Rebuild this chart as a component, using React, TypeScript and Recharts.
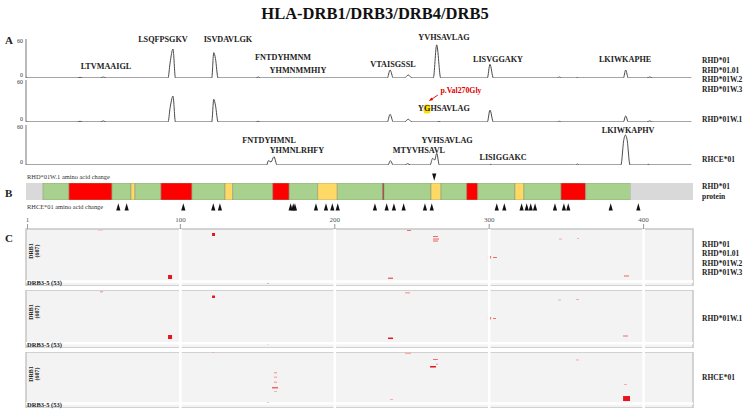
import {
  LineChart,
  Line,
  XAxis,
  YAxis,
  ReferenceDot,
  BarChart,
  Bar,
  ScatterChart,
  Scatter,
  ComposedChart,
  ReferenceArea,
  ReferenceLine,
} from 'recharts'

const SERIF = '"Liberation Serif", "DejaVu Serif", serif'
const SEQ_DOMAIN: [number, number] = [0, 432]
const RIGHT = 57 // plot area ends at x=693

// Panel A: predicted binding profile along the protein, [position, score]
const scoreRHD01: [number, number][] = [
  [0, 2], [1.2, 0], [33, 0], [35, 1], [37, 0], [48, 0], [50, 1.5], [52, 0],
  [92, 0], [93.3, 23], [95.2, 44.6], [96.8, 0],
  [120.3, 0], [121.6, 39], [122.7, 30], [124.4, 0],
  [149, 0], [150.4, 1.5], [152, 0],
  [234, 0], [235.8, 12.3], [237.9, 0],
  [245, 0], [247.6, 4.6], [250, 0],
  [263.8, 0], [266, 51], [268.6, 0],
  [298.8, 0], [300.5, 21], [302.7, 0],
  [344, 0], [345.5, 1.5], [347, 0], [356, 0], [357, 0.8], [358, 0],
  [386.9, 0], [388.4, 12.3], [390.1, 0],
  [402, 0], [404, 1.5], [406, 0], [431, 0],
]
const scoreRHD01W1: [number, number][] = [
  [0, 2], [1.2, 0], [33, 0], [35, 1], [37, 0], [48, 0], [50, 1.5], [52, 0],
  [92, 0], [93.3, 19.6], [95.2, 37], [96.8, 0],
  [120.3, 0], [121.6, 32.4], [122.7, 24], [124.4, 0],
  [149, 0], [150.4, 1], [152, 0],
  [234, 0], [235.8, 11], [237.9, 0],
  [245, 0], [247.6, 3.9], [250, 0],
  [266, 0], [267.5, 0.6], [269, 0],
  [298.8, 0], [300.5, 17], [302.7, 0],
  [344, 0], [345.5, 1], [347, 0],
  [386.9, 0], [388.4, 8.6], [390.1, 0],
  [402, 0], [404, 1.5], [406, 0], [431, 0],
]
const scoreRHCE01: [number, number][] = [
  [0, 0], [155.9, 0], [157, 6.5], [158.7, 4.5], [160.6, 12.5], [162.6, 0],
  [234.5, 0], [236, 6.5], [237.8, 0],
  [245.5, 0], [247.2, 2], [249, 0],
  [261.7, 0], [263.4, 10], [264.7, 7.5], [266, 17.5], [267.7, 0],
  [300, 0], [301, 1], [302, 0],
  [356, 0], [357, 1.5], [358.5, 0],
  [385.3, 0], [387.2, 38], [388.2, 45], [389.3, 38], [391.2, 0],
  [402, 0], [403, 1], [404.5, 0], [431, 0],
]

type Pep = { name: string; pos: number; score: number; variant?: 'mut' | 'note' }

const pepRHD01: Pep[] = [
  { name: 'LTVMAAIGL', pos: 51.8, score: 17 },
  { name: 'LSQFPSGKV', pos: 88.7, score: 60 },
  { name: 'ISVDAVLGK', pos: 130.8, score: 60 },
  { name: 'FNTDYHMNM', pos: 166.5, score: 32 },
  { name: 'YHMNMMHIY', pos: 176.2, score: 11 },
  { name: 'VTAISGSSL', pos: 237.7, score: 21.5 },
  { name: 'YVHSAVLAG', pos: 270.7, score: 63 },
  { name: 'LISVGGAKY', pos: 305.7, score: 29 },
  { name: 'LKIWKAPHE', pos: 388, score: 27.7 },
]
const pepRHD01W1: Pep[] = [
  { name: 'p.Val270Gly', pos: 281.7, score: 44.3, variant: 'note' },
  { name: 'YGHSAVLAG', pos: 270.7, score: 18.6, variant: 'mut' },
]
const pepRHCE01: Pep[] = [
  { name: 'FNTDYHMNL', pos: 157.4, score: 37.5 },
  { name: 'YHMNLRHFY', pos: 175.5, score: 21.5 },
  { name: 'MTYVHSAVL', pos: 254.5, score: 21.5 },
  { name: 'YVHSAVLAG', pos: 272.7, score: 37.5 },
  { name: 'LISIGGAKC', pos: 309, score: 11 },
  { name: 'LKIWKAPHV', pos: 390, score: 52.5 },
]

// Panel B: protein topology segments (boundaries) and types
const segBounds = [0, 11, 27.8, 55.7, 68, 70.6, 87.4, 107.5, 128.9, 133.9, 159.8, 170.5, 188.9, 201.6,
  230.9, 231.9, 262.3, 268.8, 285.4, 292.6, 316.7, 322.5, 346.5, 362.5, 391.6, 432]
const segTypes = ['tail', 'mem', 'ext', 'mem', 'loop', 'mem', 'ext', 'mem', 'loop', 'mem', 'ext', 'mem', 'loop',
  'mem', 'site', 'mem', 'loop', 'mem', 'ext', 'mem', 'loop', 'mem', 'ext', 'mem', 'tail']
const segColors: Record<string, string> = {
  tail: '#d9d9d9', mem: '#a9d18e', ext: '#ff0000', loop: '#ffd966', site: '#b22222',
}
const changesRHD01W1 = [264.4]
const changesRHCE01 = [59.8, 65.2, 101.9, 121.3, 125.6, 171.4, 173.1, 174.2, 187.8, 194.3, 198.4, 201.9, 226,
  233.6, 238.3, 244.6, 258.4, 262.8, 304.9, 309.8, 321, 324.3, 326.9, 329.7, 342.6, 348.4, 351.2, 378.7, 396.6]
const rulerTicks = [1, 100, 200, 300, 400]

// Panel C: binders per allele (607 DRB1 + 53 DRB3-5 rows); [from, to, rowFrom, rowTo, level]
type Mark = [number, number, number, number, number]
const bindRHD01: Mark[] = [
  [46.6, 49.9, 8, 18, 0], [120.5, 122.4, 46, 81, 2], [246.8, 249.4, 12, 23, 1],
  [263.6, 266.8, 81, 93, 1], [263.6, 267.5, 110, 122, 1], [263.6, 266.8, 133, 145, 1],
  [299.2, 301.2, 313, 342, 2], [302.5, 305, 324, 336, 1], [345.2, 347.2, 110, 122, 0],
  [356.9, 358.2, 104, 116, 0], [92, 94.6, 533, 579, 2], [234.5, 237.7, 562, 579, 1],
  [156, 157.4, 625, 637, 0], [387.3, 390.5, 538, 550, 1],
]
const bindRHD01W1: Mark[] = [
  [47.9, 49.9, 11, 28, 0], [120.5, 122.4, 63, 91, 2], [245.5, 248.7, 23, 40, 0],
  [299.2, 301.2, 307, 336, 2], [302.5, 304.4, 319, 330, 1], [344.6, 346.5, 108, 119, 0],
  [356.2, 358.2, 102, 114, 0], [92, 94.6, 512, 558, 2], [234.5, 237.7, 541, 558, 2],
  [156, 157.4, 612, 624, 0], [386.7, 389.9, 518, 529, 1],
]
const bindRHCE01: Mark[] = [
  [120.5, 121.8, 0, 12, 0], [245.5, 249.4, 6, 24, 0], [263.6, 266.8, 83, 94, 1],
  [265.5, 266.8, 136, 153, 0], [261.7, 265.5, 165, 183, 2], [299.2, 300.5, 0, 12, 0],
  [160.6, 162.6, 236, 253, 0], [160.6, 162.6, 289, 306, 0], [160.6, 162.6, 348, 365, 0],
  [159.3, 163.2, 412, 430, 1], [160.6, 162.6, 460, 471, 0], [156, 157.4, 590, 607, 2],
  [235.8, 237.7, 554, 566, 0], [356.2, 358.2, 88, 100, 0], [387.3, 389.2, 377, 389, 0],
  [386.7, 391.2, 519, 578, 2],
]
const markColors = ['#f4adad', '#ee6666', '#e8141c']

const groupRHD = ['RHD*01', 'RHD*01.01', 'RHD*01W.2', 'RHD*01W.3']

function Txt({ x, y, children, size = 7.5, bold = true, align = 'left', color = '#222' }: any) {
  const tx = align === 'center' ? '-50%' : '0'
  return (
    <div
      style={{
        position: 'absolute', left: x, top: y, transform: `translate(${tx},-50%)`,
        fontSize: size, fontWeight: bold ? 700 : 400, color, whiteSpace: 'nowrap',
        lineHeight: 1, fontFamily: SERIF,
      }}
    >
      {children}
    </div>
  )
}

function PepLabel(props: any) {
  const { viewBox, text, variant } = props
  const cx = viewBox.x + viewBox.width / 2
  const cy = viewBox.y + viewBox.height / 2
  const common = { x: cx, y: cy, textAnchor: 'middle' as const, dominantBaseline: 'central' as const, fontFamily: SERIF, fontWeight: 700 }
  if (variant === 'note') {
    return (
      <g>
        <text {...common} fontSize={7.8} fill="#e00000">{text}</text>
        <line x1={cx - 23} y1={cy + 4} x2={cx - 29} y2={cy + 8} stroke="#e00000" strokeWidth={0.9} />
        <path d={`M${cx - 32},${cy + 10} L${cx - 27.8},${cy + 9.1} L${cx - 29.6},${cy + 6.5} Z`} fill="#e00000" />
      </g>
    )
  }
  if (variant === 'mut') {
    return (
      <g>
        <rect x={cx - 20.5} y={cy - 4.5} width={7} height={9} rx={2.5} fill="#ffe100" />
        <text {...common} fontSize={8.2} fill="#222">{text}</text>
      </g>
    )
  }
  return <text {...common} fontSize={8.2} fill="#222">{text}</text>
}

// y tick: "0" sits a little above the baseline, "60" a little below the top
const ScoreTick = (p: any) => (
  <text
    x={p.x} y={p.y + (p.payload.value === 0 ? -3 : 2)} textAnchor="end" dominantBaseline="central"
    fontSize={6} fill="#333" fontFamily={SERIF}
  >
    {p.payload.value}
  </text>
)

function ProfileChart({ top, height, marginTop, points, peptides }: any) {
  const data = points.map(([pos, score]: [number, number]) => ({ pos, score }))
  return (
    <div style={{ position: 'absolute', left: 0, top }}>
      <LineChart width={750} height={height} data={data} margin={{ top: marginTop, right: RIGHT, bottom: 2, left: 6 }}>
        <XAxis type="number" dataKey="pos" domain={SEQ_DOMAIN} hide allowDataOverflow />
        <YAxis
          type="number" domain={[0, 60]} ticks={[0, 60]} width={20} tickSize={0} tickMargin={3}
          axisLine={{ stroke: '#777' }} tickLine={false} interval={0} allowDataOverflow
          tick={<ScoreTick />}
        />
        <Line dataKey="score" type="monotone" stroke="#4a4a4a" strokeWidth={1} dot={false} isAnimationActive={false} />
        {peptides.map((p: Pep) => (
          <ReferenceDot
            key={p.name} x={p.pos} y={p.score} r={1} fill="none" stroke="none" ifOverflow="visible"
            label={<PepLabel text={p.name} variant={p.variant} />}
          />
        ))}
      </LineChart>
    </div>
  )
}

const UpTri = (p: any) => (
  <path d={`M${p.cx},${p.cy - 3.7} L${p.cx + 2.1},${p.cy + 3.5} L${p.cx - 2.1},${p.cy + 3.5} Z`} fill="#111" />
)
const DownTri = (p: any) => (
  <path d={`M${p.cx},${p.cy + 3.7} L${p.cx + 2.1},${p.cy - 3.5} L${p.cx - 2.1},${p.cy - 3.5} Z`} fill="#111" />
)
const NoMark = () => <g />

function ChangeRow({ top, positions, shape }: any) {
  return (
    <div style={{ position: 'absolute', left: 0, top }}>
      <ScatterChart width={750} height={10} margin={{ top: 0, right: RIGHT, bottom: 0, left: 26 }}>
        <XAxis type="number" dataKey="pos" domain={SEQ_DOMAIN} hide />
        <YAxis type="number" dataKey="lane" domain={[-1, 1]} hide />
        <Scatter data={positions.map((pos: number) => ({ pos, lane: 0 }))} shape={shape} isAnimationActive={false} />
      </ScatterChart>
    </div>
  )
}

function BindingPanel({ top, height, marks, ruler }: any) {
  const centers = marks.map((m: Mark) => ({ pos: (m[0] + m[1]) / 2, row: (m[2] + m[3]) / 2 }))
  return (
    <div style={{ position: 'absolute', left: 0, top }}>
      <ComposedChart width={750} height={height} data={centers} margin={{ top: 0, right: RIGHT, bottom: 0, left: 26 }}>
        <XAxis
          type="number" dataKey="pos" domain={SEQ_DOMAIN} hide={!ruler} orientation="top" height={16}
          ticks={rulerTicks} interval={0} axisLine={false} tickSize={5} tickMargin={2}
          tickLine={{ stroke: '#999' }} tick={{ fontSize: 7, fill: '#555', fontFamily: SERIF }}
        />
        <YAxis type="number" dataKey="row" domain={[0, 660]} reversed hide />
        <ReferenceArea x1={0} x2={432} y1={0} y2={660} fill="#f3f3f3" fillOpacity={1} stroke="#c6c6c6" strokeWidth={1.5} />
        {[100, 200, 300, 400].map((v) => (
          <ReferenceLine key={v} x={v} stroke="#ffffff" strokeWidth={2.5} />
        ))}
        <ReferenceLine y={607} stroke="#ffffff" strokeWidth={2.5} />
        {marks.map((m: Mark, i: number) => (
          <ReferenceArea
            key={i} x1={m[0]} x2={m[1]} y1={m[2]} y2={m[3]}
            fill={markColors[m[4]]} fillOpacity={1} stroke="none"
          />
        ))}
        <Scatter dataKey="row" shape={NoMark} isAnimationActive={false} />
      </ComposedChart>
    </div>
  )
}

function DrbLabels({ top, bottom }: any) {
  return (
    <>
      <div
        style={{
          position: 'absolute', left: 34, top: top + 22, transform: 'translate(-50%,-50%) rotate(-90deg)',
          fontSize: 6, fontWeight: 700, fontFamily: SERIF, lineHeight: 1.05, textAlign: 'center', color: '#222',
        }}
      >
        DRB1<br />(607)
      </div>
      <Txt x={27} y={bottom - 3.5} size={6.5}>DRB3-5 (53)</Txt>
    </>
  )
}

export default function App() {
  const row = segBounds.slice(0, -1).reduce(
    (acc: Record<string, any>, s, i) => ({ ...acc, [`s${i}`]: segBounds[i + 1] - s }),
    { name: 'RhD' },
  )
  return (
    <div style={{ position: 'absolute', left: 0, top: 0, width: 750, height: 412, background: '#fff', fontFamily: SERIF }}>
      <Txt x={375} y={14} size={16.5} align="center" color="#111">HLA-DRB1/DRB3/DRB4/DRB5</Txt>

      {/* A */}
      <Txt x={5} y={40} size={11}>A</Txt>
      <ProfileChart top={30} height={50} marginTop={9} points={scoreRHD01} peptides={pepRHD01} />
      <ProfileChart top={70} height={54} marginTop={10} points={scoreRHD01W1} peptides={pepRHD01W1} />
      <ProfileChart top={115} height={52} marginTop={10} points={scoreRHCE01} peptides={pepRHCE01} />
      {groupRHD.map((g, i) => (
        <Txt key={g} x={702} y={61 + i * 9.5}>{g}</Txt>
      ))}
      <Txt x={702} y={120}>RHD*01W.1</Txt>
      <Txt x={702} y={160}>RHCE*01</Txt>

      {/* B */}
      <Txt x={5} y={193} size={11}>B</Txt>
      <Txt x={27} y={176.5} size={6.4} bold={false} color="#333">RHD*01W.1 amino acid change</Txt>
      <Txt x={27} y={206.5} size={6.4} bold={false} color="#333">RHCE*01 amino acid change</Txt>
      <ChangeRow top={172} positions={changesRHD01W1} shape={DownTri} />
      <div style={{ position: 'absolute', left: 0, top: 183 }}>
        <BarChart layout="vertical" width={750} height={17} data={[row]} barCategoryGap={0}
          margin={{ top: 0, right: RIGHT, bottom: 0, left: 26 }}>
          <XAxis type="number" domain={SEQ_DOMAIN} hide />
          <YAxis type="category" dataKey="name" hide />
          {segTypes.map((t, i) => (
            <Bar
              key={i} dataKey={`s${i}`} stackId="p" fill={segColors[t]}
              stroke={t === 'tail' ? 'none' : '#8f9a7a'} strokeWidth={0.6} isAnimationActive={false}
            />
          ))}
        </BarChart>
      </div>
      <ChangeRow top={202} positions={changesRHCE01} shape={UpTri} />
      <Txt x={702} y={186.5}>RHD*01</Txt>
      <Txt x={702} y={196.5}>protein</Txt>

      {/* C */}
      <Txt x={5} y={238} size={11}>C</Txt>
      <BindingPanel top={213} height={73} marks={bindRHD01} ruler />
      <BindingPanel top={290} height={58} marks={bindRHD01W1} />
      <BindingPanel top={352} height={56} marks={bindRHCE01} />
      <DrbLabels top={229} bottom={286} />
      <DrbLabels top={290} bottom={348} />
      <DrbLabels top={352} bottom={408} />
      {groupRHD.map((g, i) => (
        <Txt key={g} x={702} y={244.5 + i * 9.6}>{g}</Txt>
      ))}
      <Txt x={702} y={318.5}>RHD*01W.1</Txt>
      <Txt x={702} y={377.5}>RHCE*01</Txt>
    </div>
  )
}
